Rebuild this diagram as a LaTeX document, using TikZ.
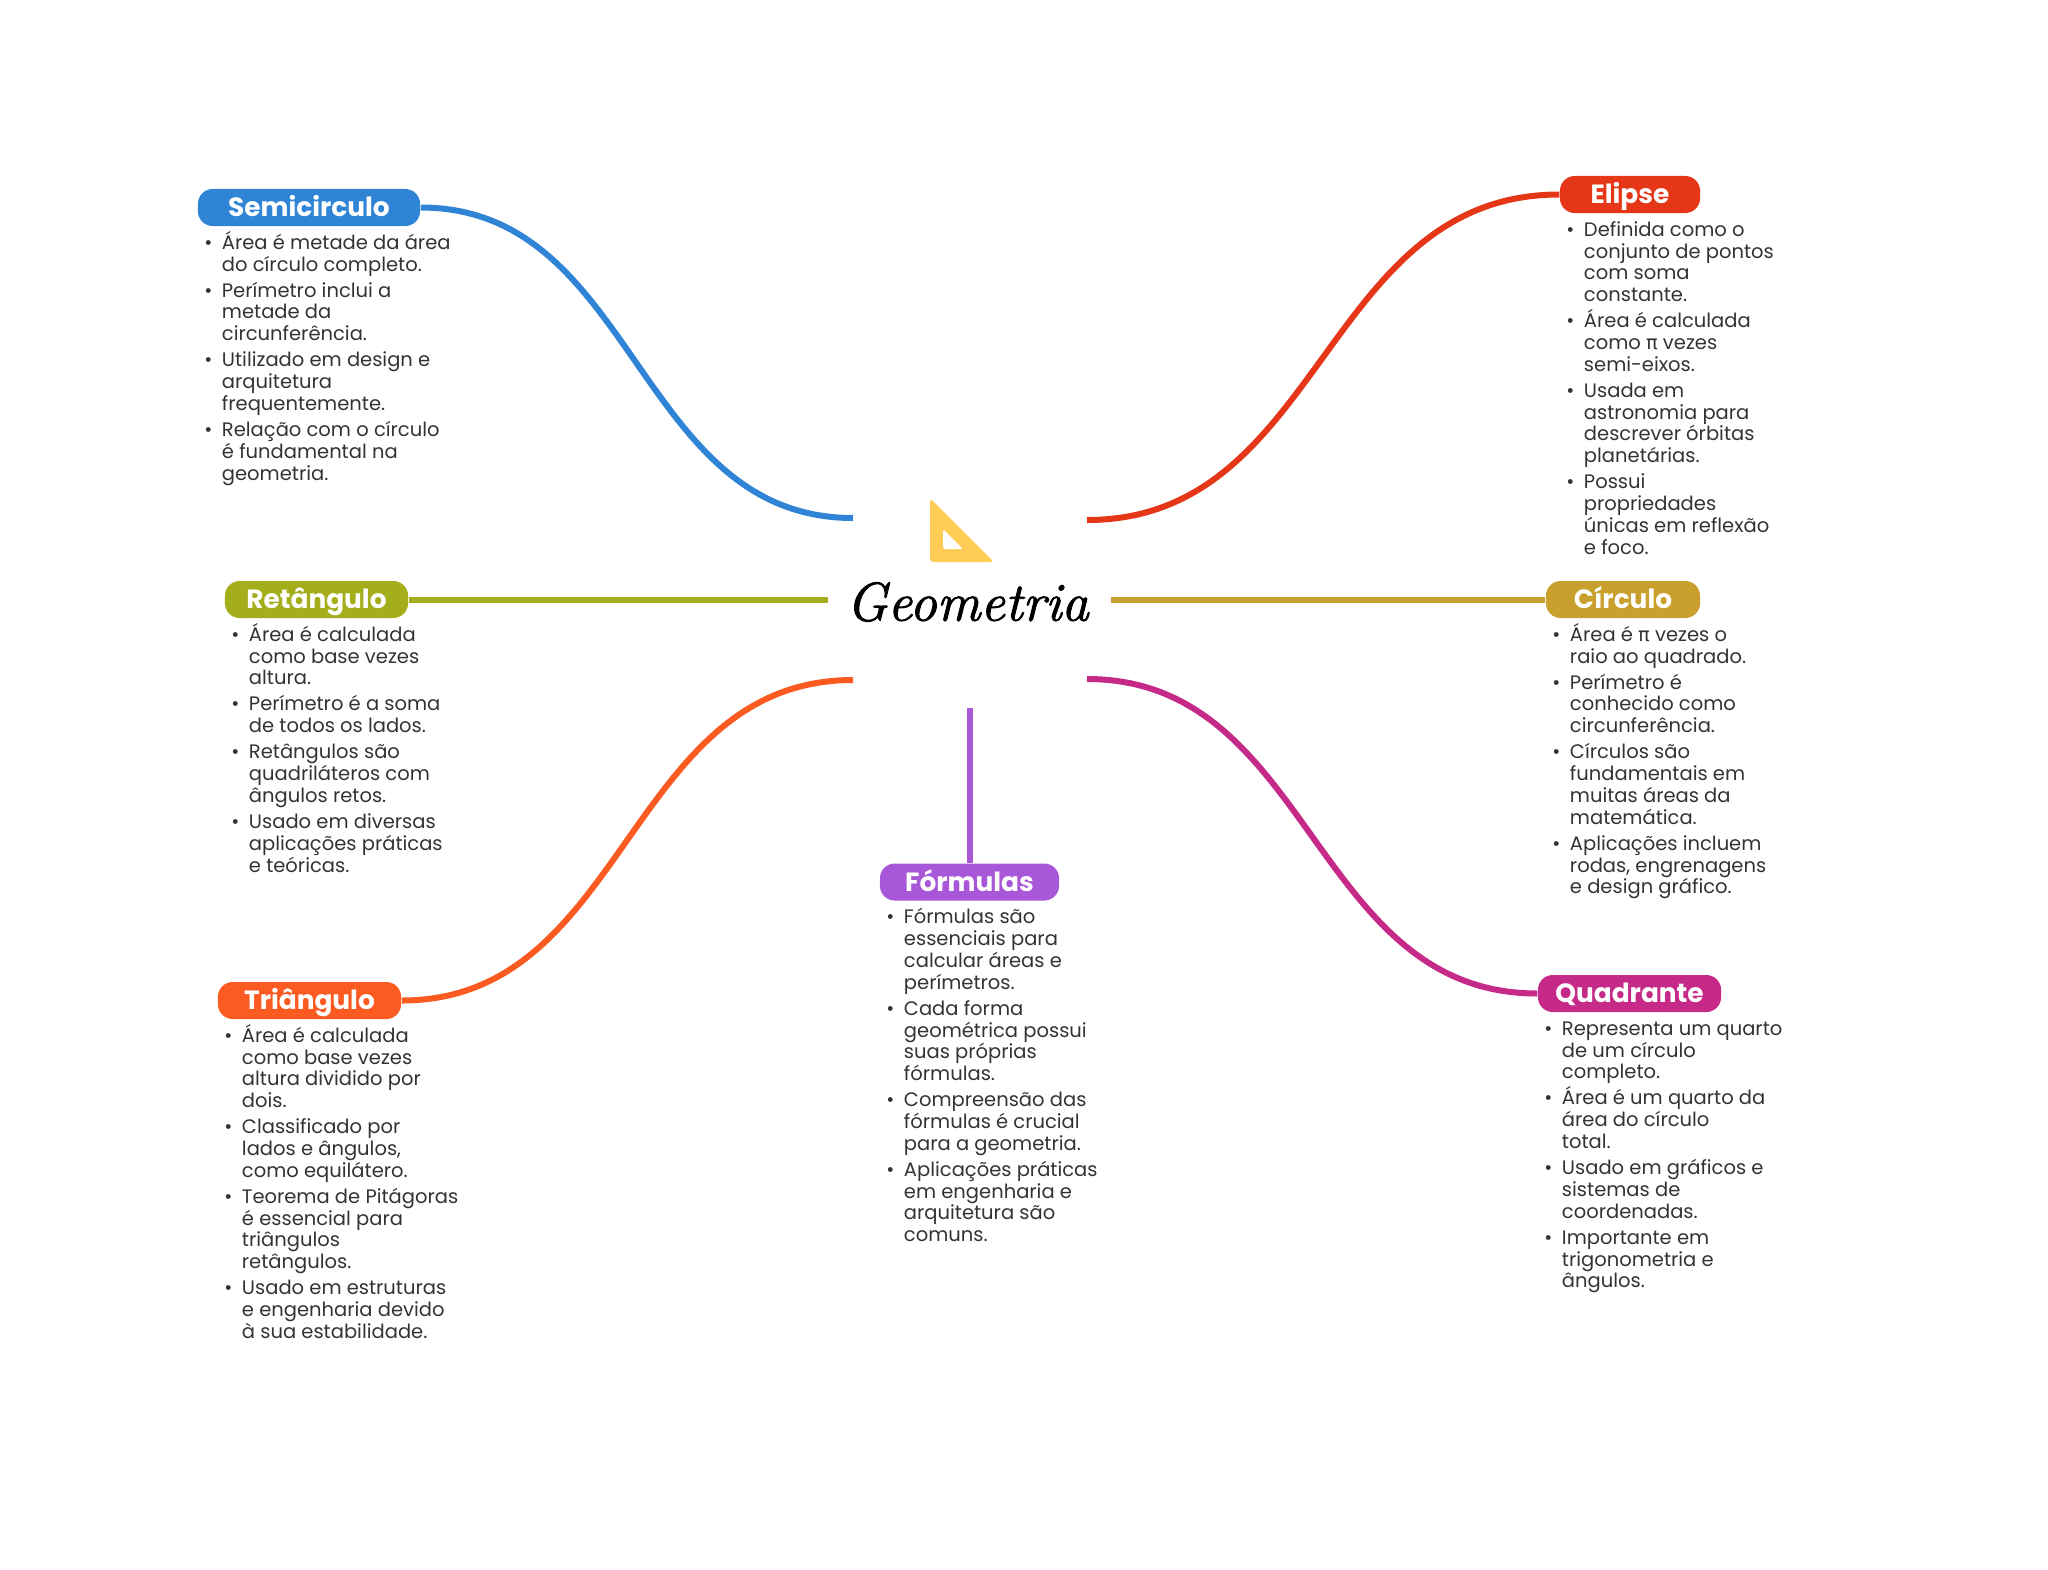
\documentclass[tikz,border=0pt]{standalone}
\usepackage{xcolor}
\usepackage{fontspec}
\usepackage{tikz}
\usetikzlibrary{positioning}
\newfontfamily\popfont{Poppins}
\newfontfamily\pifont{DejaVu Sans}
\newfontfamily\geomfont[FakeBold=1.6]{Latin Modern Roman}
\definecolor{semicolor}{RGB}{48,132,214}
\definecolor{elipsecolor}{RGB}{229,54,24}
\definecolor{retcolor}{RGB}{163,174,26}
\definecolor{circcolor}{RGB}{201,160,46}
\definecolor{tricolor}{RGB}{251,90,33}
\definecolor{quadcolor}{RGB}{198,42,136}
\definecolor{formcolor}{RGB}{168,87,217}
\definecolor{iconcolor}{RGB}{255,204,85}
\definecolor{bodycolor}{RGB}{51,51,51}
\newcommand{\bodyfont}{\popfont\fontsize{5.55}{6.2}\selectfont\lineskiplimit=-5pt\relax}
\newcommand{\bitem}{\llap{\textbullet\hspace{2.7pt}}\vphantom{Á}}
\newcommand{\piglyph}{{\pifont\fontsize{5.5}{6.2}\selectfont π}}

\begin{document}
\begin{tikzpicture}[
        x=0.01cm, y=-0.01cm,
        pill/.style={rounded corners=4.2pt, minimum height=0.37cm, inner sep=0pt, text height=6.4pt, text depth=1.1pt, text=white, font=\popfont\fontsize{7.5}{9}\selectfont\bfseries},
        itemtext/.style={inner sep=0pt, align=left, text=bodycolor, font=\bodyfont},
        branch/.style={line width=0.06cm}
    ]
        \useasboundingbox (0,0) rectangle (2048,1569);

        \node[pill, fill=semicolor, minimum width=2.22cm] (semi) at (309,207.5) {Semicirculo};
        \node[pill, fill=elipsecolor, minimum width=1.40cm] (elipse) at (1630,194.5) {Elipse};
        \node[pill, fill=retcolor, minimum width=1.83cm] (ret) at (316.5,599.5) {Retângulo};
        \node[pill, fill=circcolor, minimum width=1.54cm] (circ) at (1623,599.5) {Círculo};
        \node[pill, fill=tricolor, minimum width=1.83cm] (tri) at (309.5,1000.5) {Triângulo};
        \node[pill, fill=quadcolor, minimum width=1.83cm] (quad) at (1629.5,993.5) {Quadrante};
        \node[pill, fill=formcolor, minimum width=1.79cm] (form) at (969.5,882) {Fórmulas};

        \node[itemtext, below right=0.038cm and 0.24cm of semi.south west] (semitxt) {%
            \bitem Área é metade da área\\ do círculo completo.\\[1.2pt]
            \bitem Perímetro inclui a\\ metade da\\ circunferência.\\[1.2pt]
            \bitem Utilizado em design e\\ arquitetura\\ frequentemente.\\[1.2pt]
            \bitem Relação com o círculo\\ é fundamental na\\ geometria.};
        \node[itemtext, below right=0.038cm and 0.24cm of elipse.south west] (elipsetxt) {%
            \bitem Definida como o\\ conjunto de pontos\\ com soma\\ constante.\\[1.2pt]
            \bitem Área é calculada\\ como \piglyph{} vezes\\ semi-eixos.\\[1.2pt]
            \bitem Usada em\\ astronomia para\\ descrever órbitas\\ planetárias.\\[1.2pt]
            \bitem Possui\\ propriedades\\ únicas em reflexão\\ e foco.};
        \node[itemtext, below right=0.038cm and 0.24cm of ret.south west] (rettxt) {%
            \bitem Área é calculada\\ como base vezes\\ altura.\\[1.2pt]
            \bitem Perímetro é a soma\\ de todos os lados.\\[1.2pt]
            \bitem Retângulos são\\ quadriláteros com\\ ângulos retos.\\[1.2pt]
            \bitem Usado em diversas\\ aplicações práticas\\ e teóricas.};
        \node[itemtext, below right=0.038cm and 0.24cm of circ.south west] (circtxt) {%
            \bitem Área é \piglyph{} vezes o\\ raio ao quadrado.\\[1.2pt]
            \bitem Perímetro é\\ conhecido como\\ circunferência.\\[1.2pt]
            \bitem Círculos são\\ fundamentais em\\ muitas áreas da\\ matemática.\\[1.2pt]
            \bitem Aplicações incluem\\ rodas, engrenagens\\ e design gráfico.};
        \node[itemtext, below right=0.038cm and 0.24cm of tri.south west] (tritxt) {%
            \bitem Área é calculada\\ como base vezes\\ altura dividido por\\ dois.\\[1.2pt]
            \bitem Classificado por\\ lados e ângulos,\\ como equilátero.\\[1.2pt]
            \bitem Teorema de Pitágoras\\ é essencial para\\ triângulos\\ retângulos.\\[1.2pt]
            \bitem Usado em estruturas\\ e engenharia devido\\ à sua estabilidade.};
        \node[itemtext, below right=0.038cm and 0.24cm of quad.south west] (quadtxt) {%
            \bitem Representa um quarto\\ de um círculo\\ completo.\\[1.2pt]
            \bitem Área é um quarto da\\ área do círculo\\ total.\\[1.2pt]
            \bitem Usado em gráficos e\\ sistemas de\\ coordenadas.\\[1.2pt]
            \bitem Importante em\\ trigonometria e\\ ângulos.};
        \node[itemtext, below right=0.038cm and 0.24cm of form.south west] (formtxt) {%
            \bitem Fórmulas são\\ essenciais para\\ calcular áreas e\\ perímetros.\\[1.2pt]
            \bitem Cada forma\\ geométrica possui\\ suas próprias\\ fórmulas.\\[1.2pt]
            \bitem Compreensão das\\ fórmulas é crucial\\ para a geometria.\\[1.2pt]
            \bitem Aplicações práticas\\ em engenharia e\\ arquitetura são\\ comuns.};

        \node[inner sep=0pt, font=\geomfont\itshape\fontsize{15.5}{18}\selectfont] (root) at (967.5,602) {Geometria};

        \coordinate (semiend) at (853,518);
        \coordinate (elipseend) at (1087,520);
        \coordinate (retend) at (828,599.5);
        \coordinate (circend) at (1111,599.5);
        \coordinate (triend) at (853,680);
        \coordinate (quadend) at (1087,679);
        \coordinate (formend) at (969.5,708);

        \draw[branch, semicolor] (semi.east) .. controls (636,207.5) and (636,518) .. (semiend);
        \draw[branch, elipsecolor] (elipse.west) .. controls (1323,194.5) and (1323,520) .. (elipseend);
        \draw[branch, retcolor] (ret.east) -- (retend);
        \draw[branch, circcolor] (circ.west) -- (circend);
        \draw[branch, tricolor] (tri.east) .. controls (627,1000.5) and (627,680) .. (triend);
        \draw[branch, quadcolor] (quad.west) .. controls (1312,993.5) and (1312,679) .. (quadend);
        \draw[branch, formcolor] (form.north) -- (formend);

        \fill[iconcolor, rounded corners=1pt] (930,498) -- (994,562) -- (930,562) -- cycle;
        \fill[white, rounded corners=0.5pt] (943,529) -- (963,549) -- (943,549) -- cycle;
    \end{tikzpicture}
\end{document}
